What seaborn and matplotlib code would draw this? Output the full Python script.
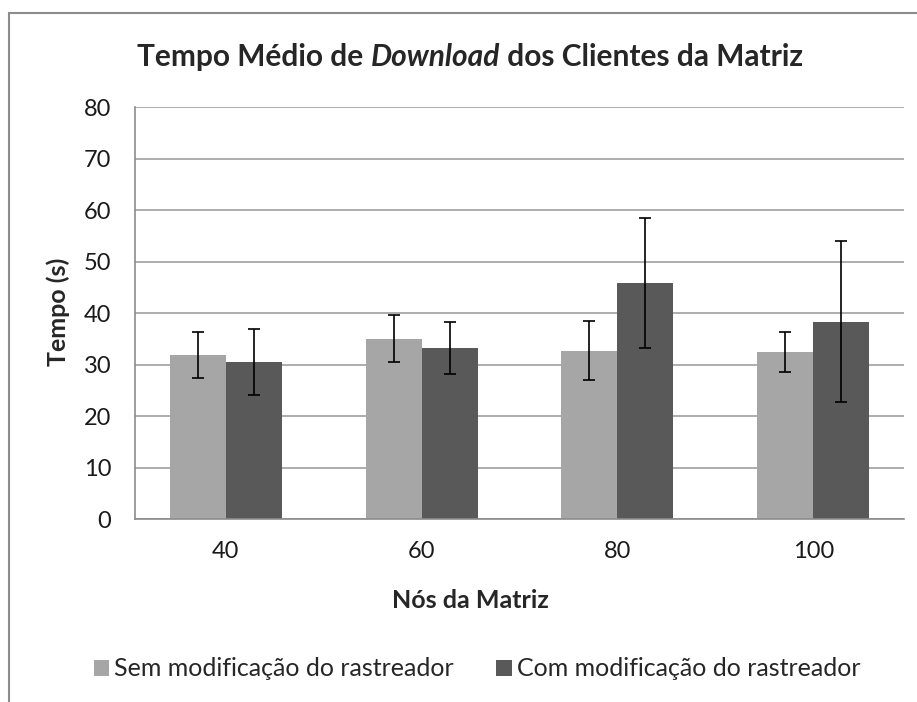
import pandas as pd
import matplotlib
matplotlib.use('Agg')
import matplotlib.pyplot as plt
import seaborn as sns
from matplotlib.patches import Rectangle, Patch

# values
nodes = ['40', '60', '80', '100']
series = ['Sem modificação do rastreador', 'Com modificação do rastreador']
sem_mean = [31.9, 35.0, 32.7, 32.4]
sem_err = [4.5, 4.6, 5.8, 3.9]
com_mean = [30.4, 33.2, 45.9, 38.3]
com_err = [6.4, 5.0, 12.6, 15.6]
colors = ['#a6a6a6', '#595959']

df = pd.DataFrame({
    'nos': nodes * 2,
    'serie': [series[0]] * 4 + [series[1]] * 4,
    'tempo': sem_mean + com_mean,
    'erro': sem_err + com_err,
})

sns.set_style('white')
plt.rcParams['font.family'] = ['Lato', 'DejaVu Sans']

fig = plt.figure(figsize=(9.17, 7.02), dpi=100)
ax = fig.add_axes([135 / 917, 1 - 519 / 702, (904 - 135) / 917, (519 - 107) / 702])

sns.barplot(data=df, x='nos', y='tempo', hue='serie', order=nodes, hue_order=series,
            palette=colors, width=0.571, errorbar=None, legend=False, ax=ax,
            saturation=1, linewidth=0, zorder=2)

# error bars on the bar centers
for patch, (_, row) in zip(ax.patches, df.iterrows()):
    xc = patch.get_x() + patch.get_width() / 2
    ax.errorbar(xc, row['tempo'], yerr=row['erro'], color='black', lw=1.2,
                capsize=4.5, capthick=1.2, zorder=3)

ax.set_ylim(0, 80)
ax.set_yticks(range(0, 81, 10))
ax.yaxis.grid(True, color='#a0a0a0', lw=1.2, zorder=0)
ax.set_axisbelow(True)
for s in ['top', 'right']:
    ax.spines[s].set_visible(False)
ax.spines['left'].set_color('#8c8c8c')
ax.spines['bottom'].set_color('#8c8c8c')
ax.spines['left'].set_linewidth(1.2)
ax.spines['bottom'].set_linewidth(1.2)
ax.tick_params(axis='y', labelsize=17, length=0, pad=17, colors='#1a1a1a')
ax.tick_params(axis='x', labelsize=17, length=0, pad=16, colors='#1a1a1a')
ax.set_xlabel('Nós da Matriz', fontsize=18, fontweight='bold')
ax.set_ylabel('Tempo (s)', fontsize=18, fontweight='bold')
ax.xaxis.set_label_coords((470 - 135) / 769, (519 - 601) / 412)
ax.xaxis.label.set_va('center')
ax.yaxis.set_label_coords((58 - 135) / 769, (519 - 312) / 412)
ax.yaxis.label.set_va('center')

# title with italic word
fig.canvas.draw()
r = fig.canvas.get_renderer()
parts = [('Tempo Médio de ', 'normal'), ('Download', 'italic'), (' dos Clientes da Matriz', 'normal')]
texts = [fig.text(0, 1 - 57 / 702, p, fontsize=21.5, fontweight='bold', style=st, va='center')
         for p, st in parts]
widths = [t.get_window_extent(r).width for t in texts]
x0 = (470 - sum(widths) / 2)
for t, w in zip(texts, widths):
    t.set_x(x0 / 917)
    x0 += w

handles = [Patch(facecolor=c, edgecolor='none') for c in colors]
fig.legend(handles, series, loc='center', bbox_to_anchor=(477 / 917, 1 - 669 / 702), ncol=2,
           frameon=False, fontsize=18, handlelength=0.62, handleheight=0.62,
           handletextpad=0.2, columnspacing=1.7, borderpad=0)

fig.patches.append(Rectangle((9 / 917, -0.1), 1.2, 1.1 - 13 / 702, transform=fig.transFigure,
                             fill=False, edgecolor='#8c8c8c', lw=1.5))

fig.savefig('out.png', dpi=100)
